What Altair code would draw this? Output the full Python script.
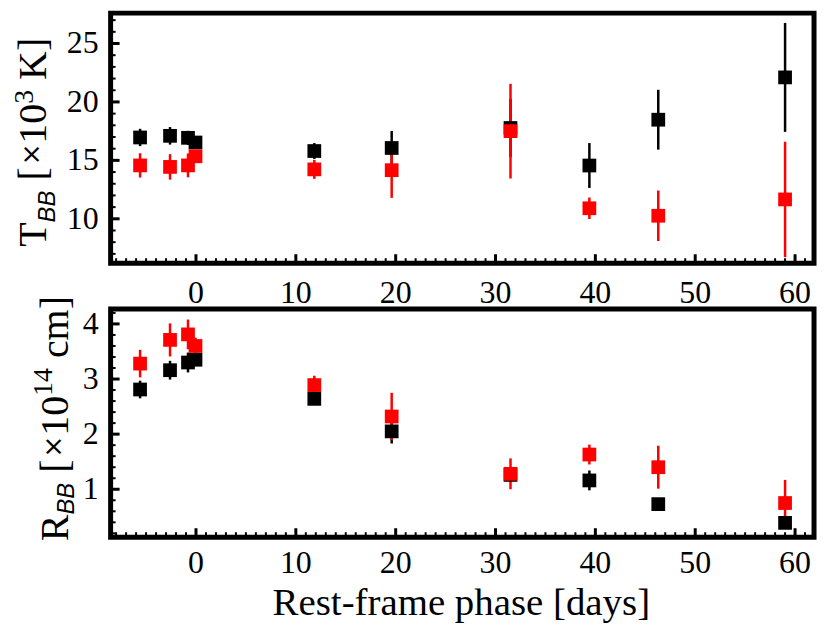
import altair as alt
import pandas as pd

# ---------------- data ----------------
phase = [-5.6, -2.6, -0.8, -0.05, 11.85, 19.6, 31.5, 39.4, 46.3, 59.0]

t_black = [16.96, 17.10, 16.93, 16.53, 15.80, 16.06, 17.77, 14.56, 18.48, 22.10]
t_black_err = [0.74, 0.75, 0.60, 0.50, 0.68, 1.46, 2.50, 1.92, 2.56, 4.66]
t_red = [14.57, 14.44, 14.57, 15.35, 14.23, 14.16, 17.50, 10.90, 10.26, 11.66]
t_red_err = [1.04, 1.09, 1.02, 0.50, 0.81, 2.37, 4.05, 0.92, 2.16, 4.94]

r_black = [2.81, 3.16, 3.30, 3.35, 2.64, 2.05, 1.26, 1.16, 0.73, 0.39]
r_black_err = [0.16, 0.17, 0.18, 0.10, 0.10, 0.22, 0.10, 0.18, 0.05, 0.05]
r_red = [3.28, 3.71, 3.81, 3.60, 2.89, 2.32, 1.28, 1.63, 1.40, 0.75]
r_red_err = [0.25, 0.30, 0.27, 0.15, 0.17, 0.43, 0.28, 0.18, 0.39, 0.42]

# labelled (major) ticks and unlabelled (minor) ticks
x_labels = [0, 10, 20, 30, 40, 50, 60]
x_minor = [v for v in range(-8, 62) if v % 10 != 0]
t_labels = [10, 15, 20, 25]
t_minor = [v for v in range(7, 28) if v % 5 != 0]
r_labels = [1, 2, 3, 4]
r_minor = [round(0.2 * k, 1) for k in range(1, 22) if k % 5 != 0]

x_title = "Rest-frame phase [days]"

SERIES = ["black", "red"]
COLORS = ["#000000", "#ff0000"]

W = 706
HT = 251
HB = 229
FONT = "Liberation Serif"
XS = alt.Scale(domain=[-8.55, 61.9], nice=False, zero=False)


def make_df(vb, eb, vr, er):
    rows = []
    for s, vals, errs in (("black", vb, eb), ("red", vr, er)):
        for p, v, e in zip(phase, vals, errs):
            rows.append({"phase": p, "val": v, "lo": v - e, "hi": v + e, "series": s})
    return pd.DataFrame(rows)


one = pd.DataFrame({"k": [0]})


def piece(text, x, y, size, font=FONT, style="normal"):
    return alt.Chart(one).mark_text(
        text=text, angle=270, align="left", baseline="alphabetic",
        font=font, fontSize=size, fontStyle=style, color="black"
    ).encode(x=alt.value(x), y=alt.value(y))


def xticks(vals, H, length, width):
    return alt.Chart(pd.DataFrame({"v": vals})).mark_rule(
        strokeWidth=width, color="black"
    ).encode(x=alt.X("v:Q", scale=XS, axis=None), y=alt.value(H), y2=alt.value(H - length))


def yticks(vals, ys, length, width):
    return alt.Chart(pd.DataFrame({"v": vals})).mark_rule(
        strokeWidth=width, color="black"
    ).encode(y=alt.Y("v:Q", scale=ys, axis=None), x=alt.value(0), x2=alt.value(length))


def panel(df, ydom, H, ymin, ylabs, pieces, xlab_off, xtitle):
    ys = alt.Scale(domain=ydom, nice=False, zero=False)
    col = alt.Color("series:N", scale=alt.Scale(domain=SERIES, range=COLORS), legend=None)

    base = alt.Chart(df)
    rules = base.mark_rule(strokeWidth=2.5).encode(
        x=alt.X("phase:Q", scale=XS, axis=None),
        y=alt.Y("lo:Q", scale=ys, axis=None),
        y2="hi:Q",
        color=col,
    )
    pts = base.mark_point(shape="square", filled=True, size=190, opacity=1).encode(
        x=alt.X("phase:Q", scale=XS, axis=None),
        y=alt.Y("val:Q", scale=ys, axis=None),
        color=col,
    )
    xlab = alt.Chart(pd.DataFrame({"v": x_labels})).mark_text(
        font=FONT, fontSize=32, baseline="alphabetic", align="center", color="black"
    ).encode(x=alt.X("v:Q", scale=XS, axis=None), y=alt.value(H + xlab_off),
             text=alt.Text("v:Q", format="d"))
    ylab = alt.Chart(pd.DataFrame({"v": ylabs})).mark_text(
        font=FONT, fontSize=32, baseline="middle", align="right", color="black"
    ).encode(x=alt.value(-12), y=alt.Y("v:Q", scale=ys, axis=None),
             text=alt.Text("v:Q", format="d"))
    layers = [
        xticks(x_minor, H, 5, 2), xticks(x_labels, H, 9, 3),
        yticks(ymin, ys, 5, 2), yticks(ylabs, ys, 9, 3),
        rules, pts, xlab, ylab,
    ] + [piece(*p) for p in pieces]
    if xtitle:
        layers.append(
            alt.Chart(one).mark_text(
                text=xtitle, font=FONT, fontSize=39, baseline="alphabetic",
                align="center", color="black"
            ).encode(x=alt.value(W / 2 - 1), y=alt.value(H + 78))
        )
    return alt.layer(*layers).properties(width=W, height=H)


top_df = make_df(t_black, t_black_err, t_red, t_red_err)
bot_df = make_df(r_black, r_black_err, r_red, r_red_err)

top_pieces = [
    ("T", -65, 234.5, 40),
    ("BB", -56, 210.1, 24, "Liberation Sans", "italic"),
    ("[", -65, 168.1, 40),
    ("×", -71, 152.8, 26, "DejaVu Sans"),
    ("10", -65, 131.0, 40),
    ("3", -78, 91.0, 28),
    ("K", -65, 67.0, 40),
    ("]", -65, 38.1, 40),
]
bot_pieces = [
    ("R", -43, 233.0, 40),
    ("BB", -37, 206.3, 24, "Liberation Sans", "italic"),
    ("[", -43, 164.3, 40),
    ("×", -49, 149.0, 26, "DejaVu Sans"),
    ("10", -43, 127.2, 40),
    ("14", -59, 87.2, 28),
    ("cm", -43, 49.2, 40),
    ("]", -43, 0.3, 40),
]

top = panel(top_df, [6.2, 27.6], HT, t_minor, t_labels, top_pieces, 40, None)
bottom = panel(bot_df, [0.13, 4.27], HB, r_minor, r_labels, bot_pieces, 36, x_title)

chart = alt.vconcat(top, bottom, spacing=46, bounds="flush").properties(
    padding={"left": 0, "top": 1, "right": 5, "bottom": 5}
).configure_view(stroke="black", strokeWidth=5)

chart.save("out.html", embed_options={"renderer": "svg", "actions": False})
